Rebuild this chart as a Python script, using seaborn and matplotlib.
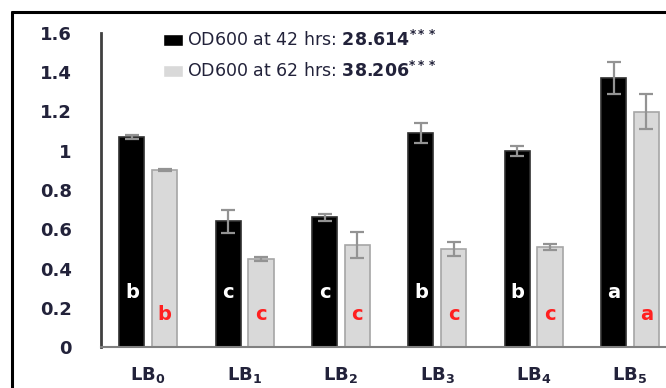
import pandas as pd
import numpy as np
import seaborn as sns
from matplotlib import pyplot as plt
from matplotlib.lines import Line2D

# data
media = [r'$\mathbf{LB}_\mathbf{%d}$' % i for i in range(6)]
od_42 = [1.07, 0.64, 0.66, 1.09, 1.00, 1.37]
od_62 = [0.90, 0.45, 0.52, 0.50, 0.51, 1.20]
err_42 = [0.01, 0.06, 0.02, 0.05, 0.025, 0.08]
err_62 = [0.005, 0.01, 0.065, 0.035, 0.015, 0.09]
grp_42 = ['b', 'c', 'c', 'b', 'b', 'a']
grp_62 = ['b', 'c', 'c', 'c', 'c', 'a']
series = ['OD600 at 42 hrs', 'OD600 at 62 hrs']
legend_labels = [r'OD600 at 42 hrs: $\mathbf{28.614}^{\mathbf{***}}$',
                 r'OD600 at 62 hrs: $\mathbf{38.206}^{\mathbf{***}}$']
yticks = [0, 0.2, 0.4, 0.6, 0.8, 1, 1.2, 1.4, 1.6]

df = pd.DataFrame({
    'medium': media * 2,
    'od': od_42 + od_62,
    'series': [series[0]] * 6 + [series[1]] * 6,
})

sns.set_style('white')
plt.rcParams['font.family'] = ['DejaVu Sans']
plt.rcParams['mathtext.fontset'] = 'dejavusans'
txt = '#22223a'

fig = plt.figure(figsize=(6.66, 3.88), dpi=100)
ax = fig.add_axes([101 / 666, 41 / 388, 565 / 666, 314 / 388])

sns.barplot(data=df, x='medium', y='od', hue='series', order=media,
            hue_order=series, palette=['black', '#d9d9d9'], width=0.68,
            gap=0.23, errorbar=None, ax=ax)

# bar edges, error bars and group letters
n = len(media)
for i, p in enumerate(ax.patches[:2 * n]):
    s, j = divmod(i, n)
    cx = p.get_x() + p.get_width() / 2
    if s == 0:
        p.set_edgecolor('#303030')
        ax.errorbar(cx, od_42[j], yerr=err_42[j], color='#939393', lw=1.6,
                    capsize=5, capthick=1.6)
        ax.text(cx, 0.28, grp_42[j], color='white', ha='center', va='center',
                fontsize=14, fontweight='bold')
    else:
        p.set_edgecolor('#a6a6a6')
        ax.errorbar(cx, od_62[j], yerr=err_62[j], color='#939393', lw=1.6,
                    capsize=5, capthick=1.6)
        ax.text(cx, 0.165, grp_62[j], color='#ff2020', ha='center', va='center',
                fontsize=14, fontweight='bold')
    p.set_linewidth(1.2)

ax.set_ylim(0, 1.6)
ax.set_xlim(-0.49, 5.374)
ax.set_yticks(yticks)
ax.set_yticklabels(['0' if v == 0 else f'{v:g}' for v in yticks])
ax.set_xlabel('')
ax.set_ylabel('')
ax.tick_params(axis='y', length=0, pad=21, labelsize=13, labelcolor=txt)
ax.tick_params(axis='x', length=0, pad=13, labelsize=13, labelcolor=txt)
for lab in ax.get_xticklabels() + ax.get_yticklabels():
    lab.set_fontweight('bold')

for side in ['top', 'right']:
    ax.spines[side].set_visible(False)
ax.spines['left'].set_color('#404040')
ax.spines['left'].set_linewidth(2)
ax.spines['bottom'].set_color('#808080')
ax.spines['bottom'].set_linewidth(1.5)

handles, _ = ax.get_legend_handles_labels()
ax.legend(handles, legend_labels, loc='upper left', frameon=False,
          bbox_to_anchor=(163 / 666, 1 - 30 / 388), bbox_transform=fig.transFigure,
          borderpad=0, borderaxespad=0, fontsize=12.5, handlelength=1.15,
          handletextpad=0.25, labelspacing=0.65, labelcolor=txt)

# black frame of the cropped figure
fig.add_artist(Line2D([12 / 666, 12 / 666], [0, 1 - 12 / 388], color='black', lw=2.2,
                      transform=fig.transFigure))
fig.add_artist(Line2D([12 / 666, 1], [1 - 12 / 388, 1 - 12 / 388], color='black', lw=2.2,
                      transform=fig.transFigure))

fig.savefig('out.png', dpi=100)
